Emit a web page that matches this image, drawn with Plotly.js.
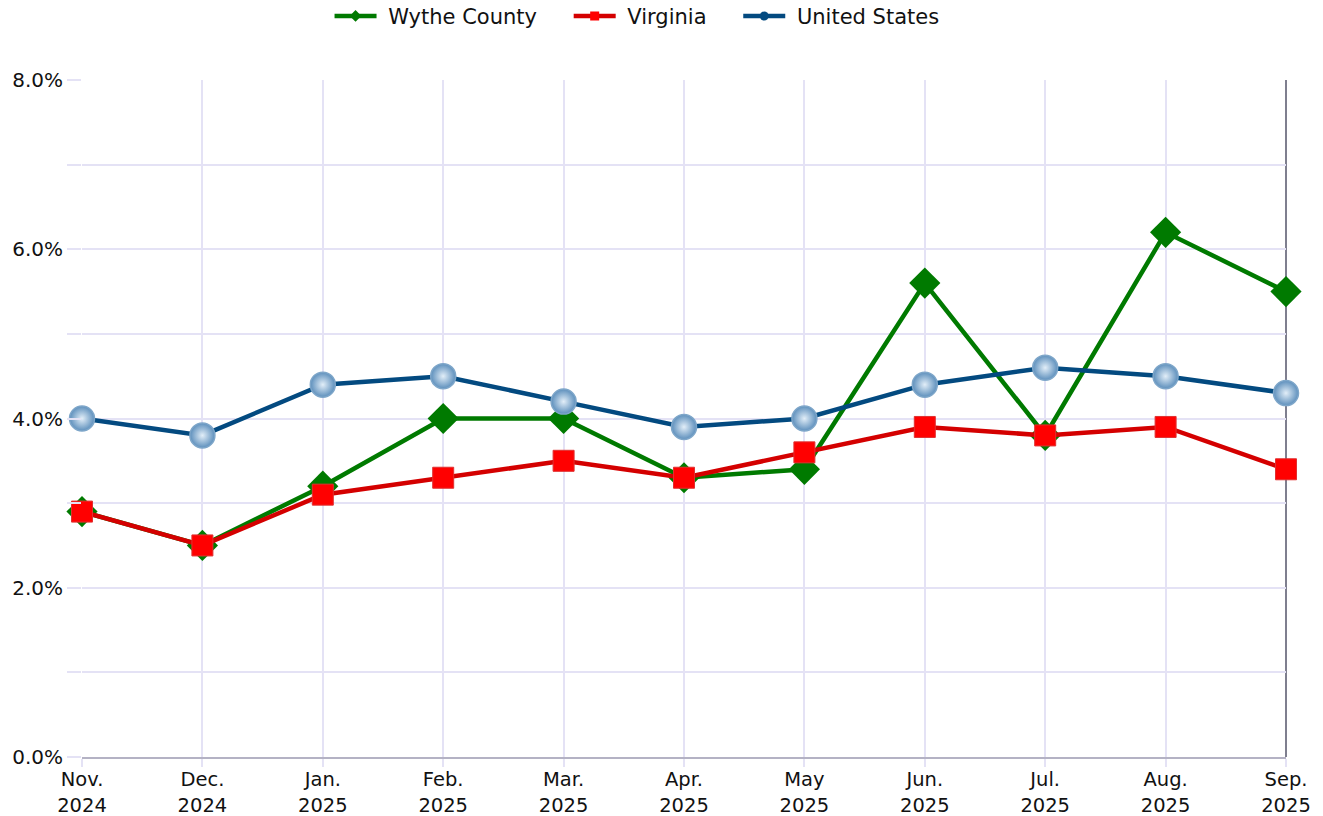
<!DOCTYPE html>
<html>
<head>
<meta charset="utf-8">
<script src="https://cdn.plot.ly/plotly-3.0.1.min.js"></script>
<style>html,body{margin:0;padding:0;background:#fff;}#chart{width:1323px;height:816px;}</style>
</head>
<body>
<div id="chart"></div>
<script>
const months = ["Nov.<br>2024","Dec.<br>2024","Jan.<br>2025","Feb.<br>2025","Mar.<br>2025","Apr.<br>2025","May<br>2025","Jun.<br>2025","Jul.<br>2025","Aug.<br>2025","Sep.<br>2025"];
const seriesNames = ["Wythe County", "Virginia", "United States"];
const wythe = [2.9, 2.5, 3.2, 4.0, 4.0, 3.3, 3.4, 5.6, 3.8, 6.2, 5.5];
const virginia = [2.9, 2.5, 3.1, 3.3, 3.5, 3.3, 3.6, 3.9, 3.8, 3.9, 3.4];
const unitedStates = [4.0, 3.8, 4.4, 4.5, 4.2, 3.9, 4.0, 4.4, 4.6, 4.5, 4.3];

const font = "DejaVu Sans, Verdana, sans-serif";
const grid = "#e4e2f5";
const pad = "\u00a0\u00a0\u00a0\u00a0";

const styles = [
  {line: {color: "#007a00", width: 4.5},
   marker: {symbol: "diamond", size: 24, color: "#007a00"},
   legendMarker: {symbol: "diamond", size: 9, color: "#007a00"}},
  {line: {color: "#d40000", width: 4.5},
   marker: {symbol: "square", size: 21, color: "#ff0000", line: {color: "#e03030", width: 1}},
   legendMarker: {symbol: "square", size: 9, color: "#ff0000"}},
  {line: {color: "#034a80", width: 4.5},
   marker: {symbol: "circle", size: 25, color: "#5d8fbc",
            gradient: {type: "radial", color: "#e2eef8"},
            line: {color: "#7ea6c9", width: 1.5}},
   legendMarker: {symbol: "circle", size: 9, color: "#034a80"}}
];
const values = [wythe, virginia, unitedStates];

const traces = [];
values.forEach((v, i) => {
  traces.push({name: seriesNames[i], x: months, y: v, type: "scatter", mode: "lines+markers",
    line: styles[i].line, marker: styles[i].marker, cliponaxis: false, showlegend: false});
});
// legend entries (no data drawn)
values.forEach((v, i) => {
  traces.push({name: "\u00a0" + seriesNames[i] + (i < 2 ? pad : ""), x: [null], y: [null], type: "scatter",
    mode: "lines+markers", line: styles[i].line, marker: styles[i].legendMarker, showlegend: true});
});

const layout = {
  width: 1323, height: 816,
  margin: {l: 82, r: 37, t: 80, b: 59, autoexpand: false},
  paper_bgcolor: "#fff", plot_bgcolor: "#fff",
  font: {family: font, size: 20, color: "#111"},
  showlegend: true,
  legend: {orientation: "h", x: 0.461, xanchor: "center", yref: "container", y: 0.98, yanchor: "middle",
           font: {family: font, size: 21, color: "#111"}, itemwidth: 42},
  xaxis: {
    type: "category", range: [0, 10], showgrid: true, gridcolor: grid, gridwidth: 2,
    showline: true, linecolor: "#b4b2c4", linewidth: 2,
    ticks: "outside", ticklen: 8, tickcolor: grid, tickwidth: 2, ticklabelstandoff: -4,
    tickfont: {family: font, size: 19.5, color: "#111"}, zeroline: false, fixedrange: true
  },
  yaxis: {
    range: [0, 8], dtick: 2, tick0: 0, tickformat: ".1f", ticksuffix: "%",
    showgrid: true, gridcolor: grid, gridwidth: 2,
    showline: false, zeroline: false,
    ticks: "outside", ticklen: 14, tickcolor: grid, tickwidth: 2,
    minor: {dtick: 1, tick0: 0, showgrid: true, gridcolor: grid, gridwidth: 2,
            ticks: "outside", ticklen: 14, tickcolor: grid, tickwidth: 2},
    tickfont: {family: font, size: 20, color: "#111"}, fixedrange: true
  },
  shapes: [
    {type: "line", xref: "paper", yref: "paper", x0: 1, x1: 1, y0: 0, y1: 1,
     line: {color: "#55556a", width: 1.5}, layer: "below"}
  ]
};

Plotly.newPlot("chart", traces, layout, {displayModeBar: false, staticPlot: true});
</script>
</body>
</html>
